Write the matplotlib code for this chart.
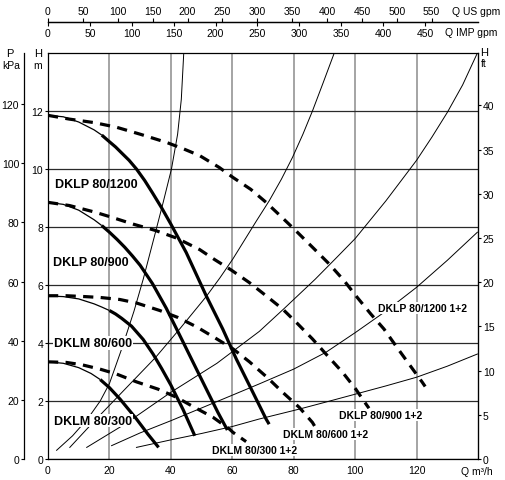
import matplotlib
matplotlib.use('Agg')
import matplotlib.pyplot as plt

plt.rcParams['font.family'] = 'Liberation Sans'

# axis ticks
q_ticks = [0, 20, 40, 60, 80, 100, 120]
h_ticks = [0, 2, 4, 6, 8, 10, 12]
p_ticks = [0, 20, 40, 60, 80, 100, 120]
ft_ticks = [0, 5, 10, 15, 20, 25, 30, 35, 40]
us_ticks = [0, 50, 100, 150, 200, 250, 300, 350, 400, 450, 500, 550]
imp_ticks = [0, 50, 100, 150, 200, 250, 300, 350, 400, 450]

# pump curves (Q m3/h, H m), thick from index "k"
p1200_q = [0, 5, 10, 15, 17.5, 20, 22, 24, 26.4, 28.8, 31.5, 34, 37, 40, 45, 51.5, 56.9, 61.3, 66.7, 71, 72]
p1200_h = [11.85, 11.8, 11.62, 11.35, 11.17, 10.94, 10.76, 10.55, 10.3, 10.0, 9.6, 9.18, 8.66, 8.1, 7.12, 5.63, 4.48, 3.45, 2.3, 1.38, 1.2]
p900_q = [0, 5, 10, 15, 17.5, 20, 22.5, 25, 27.5, 30, 34, 38.5, 43.9, 49.4, 55.3, 58.4]
p900_h = [8.85, 8.78, 8.58, 8.25, 8.05, 7.82, 7.57, 7.3, 7.0, 6.68, 6.05, 5.2, 4.05, 2.87, 1.61, 1.0]
p600_q = [0, 5, 10, 15, 17.5, 20, 22, 24, 27.2, 31, 34.2, 37, 40, 44, 47.8]
p600_h = [5.62, 5.6, 5.52, 5.35, 5.24, 5.12, 5.0, 4.85, 4.58, 4.12, 3.62, 3.12, 2.55, 1.7, 0.8]
p300_q = [0, 5, 10, 14, 17, 20, 23.5, 26, 28.8, 32.5, 36]
p300_h = [3.35, 3.3, 3.15, 2.95, 2.74, 2.46, 2.06, 1.74, 1.38, 0.86, 0.4]

# 1+2 curves (dashed)
d1200_q = [0, 7, 15, 22.3, 30, 38.5, 44, 49.4, 55.8, 60.2, 66, 71, 75, 80.7, 86.7, 91.6,
           96.4, 100.7, 105.1, 109.4, 113.2, 117.5, 121.9, 122.8]
d1200_h = [11.85, 11.72, 11.6, 11.44, 11.2, 10.92, 10.7, 10.46, 10.05, 9.71, 9.3, 8.85, 8.45,
           7.87, 7.24, 6.72, 6.15, 5.57, 5.0, 4.48, 3.91, 3.28, 2.64, 2.5]
d900_q = [0, 7, 15, 20, 27.7, 35, 41.8, 49.4, 54.2, 59.6, 65.6, 71, 76.4, 81.3, 86.1, 91,
          95.9, 100.2, 103.5, 104.5]
d900_h = [8.85, 8.74, 8.52, 8.36, 8.1, 7.88, 7.62, 7.22, 6.88, 6.52, 6.08, 5.63, 5.17, 4.66,
          4.14, 3.56, 2.99, 2.41, 1.9, 1.75]
d600_q = [0, 6, 12, 17, 23.4, 28.8, 36.4, 42.3, 48.5, 54.8, 60.2, 65.6, 71.5, 76.4, 81.8, 86.1, 87]
d600_h = [5.63, 5.63, 5.6, 5.57, 5.5, 5.38, 5.12, 4.88, 4.55, 4.15, 3.8, 3.35, 2.8, 2.3, 1.78, 1.26, 1.1]
d300_q = [0, 6, 11, 16.9, 22.3, 28.8, 35.8, 41.8, 47.7, 53.7, 59.1, 60.2, 64.5]
d300_h = [3.35, 3.33, 3.25, 3.1, 2.93, 2.66, 2.41, 2.13, 1.78, 1.44, 1.03, 0.92, 0.6]

# system curves (thin)
s1_q = [2.8, 8, 13, 17, 20, 24, 28, 31, 34.7, 37.5, 40.2, 42.2, 43.4, 44.2]
s1_h = [0.3, 0.8, 1.4, 2.0, 2.6, 3.8, 5.1, 6.2, 7.7, 8.85, 10.0, 11.2, 12.4, 14.0]
s2_q = [7.1, 15, 25, 35, 43, 51.5, 56, 60.2, 64, 67.8, 72, 76, 79.6, 83, 86.1, 89.5, 93.2]
s2_h = [0.4, 1.3, 2.4, 3.5, 4.5, 5.6, 6.25, 6.9, 7.55, 8.2, 8.9, 9.65, 10.4, 11.2, 12.0, 12.95, 14.0]
s3_q = [12.6, 25, 40, 55, 68.8, 77, 87, 94, 100, 110, 120, 125, 130, 135, 139.8]
s3_h = [0.4, 1.2, 2.3, 3.3, 4.4, 5.2, 6.2, 6.95, 7.6, 8.9, 10.3, 11.1, 11.95, 12.9, 14.0]
s4_q = [20.7, 30, 40, 50, 60, 68.8, 80, 90.5, 100.2, 110, 120, 130, 139.8]
s4_h = [0.46, 0.9, 1.32, 1.76, 2.2, 2.59, 3.1, 3.68, 4.37, 5.1, 5.92, 6.85, 7.82]
s5_q = [28.8, 40, 50, 60, 68.8, 81.8, 90, 100.2, 110, 120, 130, 139.8]
s5_h = [0.4, 0.66, 0.88, 1.12, 1.38, 1.72, 1.95, 2.24, 2.52, 2.82, 3.2, 3.62]

pumps = [(p1200_q, p1200_h, 4), (p900_q, p900_h, 4), (p600_q, p600_h, 5), (p300_q, p300_h, 4)]
doubles = [(d1200_q, d1200_h), (d900_q, d900_h), (d600_q, d600_h), (d300_q, d300_h)]
systems = [(s1_q, s1_h), (s2_q, s2_h), (s3_q, s3_h), (s4_q, s4_h), (s5_q, s5_h)]

USGPM = 4.40287
IMPGPM = 3.66615
W, H = 506, 481

fig = plt.figure(figsize=(W / 100, H / 100), dpi=100)
L, R, B, T = 48 / W, 478 / W, 1 - 460 / H, 1 - 54 / H
ax = fig.add_axes([L, B, R - L, T - B])
ax.set_xlim(0, 140)
ax.set_ylim(0, 14)
ax.set_xticks(q_ticks)
ax.set_yticks(h_ticks)
ax.tick_params(axis='x', length=0, pad=4, labelsize=7.5)
ax.tick_params(axis='y', length=2.5, width=0.8, pad=1, labelsize=7.5)
ax.xaxis.grid(True, color='#8c8c8c', lw=1.1)
ax.yaxis.grid(True, color='#2a2a2a', lw=0.9)
ax.set_axisbelow(True)
for s in ax.spines.values():
    s.set_linewidth(0.9)

for q, h in systems:
    ax.plot(q, h, color='black', lw=0.7, zorder=2)

for q, h, k in pumps:
    ax.plot(q[:k + 1], h[:k + 1], color='black', lw=0.9, zorder=3, solid_capstyle='butt')
    ax.plot(q[k:], h[k:], color='black', lw=2.3, zorder=3, solid_capstyle='butt',
            solid_joinstyle='round')

for q, h in doubles:
    ax.plot(q, h, color='black', lw=2.3, ls=(0, (3.2, 2.3)), zorder=4, dash_capstyle='butt')

box = dict(facecolor='white', edgecolor='none', pad=0.5)
ax.text(2.3, 9.48, 'DKLP 80/1200', fontsize=9, fontweight='bold', va='center', zorder=6)
ax.text(1.7, 6.78, 'DKLP 80/900', fontsize=9, fontweight='bold', va='center', zorder=6)
ax.text(1.9, 4.0, 'DKLM 80/600', fontsize=9, fontweight='bold', va='center', zorder=6, bbox=box)
ax.text(1.9, 1.32, 'DKLM 80/300', fontsize=9, fontweight='bold', va='center', zorder=6, bbox=box)
ax.text(107.6, 5.21, 'DKLP 80/1200 1+2', fontsize=7.5, fontweight='bold', va='center', zorder=6, bbox=box)
ax.text(94.8, 1.52, 'DKLP 80/900 1+2', fontsize=7.5, fontweight='bold', va='center', zorder=6, bbox=box)
ax.text(76.4, 0.86, 'DKLM 80/600 1+2', fontsize=7.5, fontweight='bold', va='center', zorder=6, bbox=box)
ax.text(53.5, 0.31, 'DKLM 80/300 1+2', fontsize=7.5, fontweight='bold', va='center', zorder=6, bbox=box)

# kPa axis on the far left, ft axis on the right
sec_p = ax.secondary_yaxis(-24 / 430, functions=(lambda h: h * 9.80665, lambda p: p / 9.80665))
sec_p.set_yticks(p_ticks)
sec_p.tick_params(length=2.5, width=0.8, pad=1, labelsize=7.5)
sec_p.spines['left'].set_linewidth(0.9)

sec_ft = ax.secondary_yaxis('right', functions=(lambda h: h * 3.28084, lambda f: f / 3.28084))
sec_ft.set_yticks(ft_ticks)
sec_ft.tick_params(length=2.5, width=0.8, pad=1, labelsize=7.5)

# flow scales on top
y_line = 1 - 23 / H
ax_us = fig.add_axes([L, y_line, R - L, 1e-4])
ax_us.set_xlim(0, 140 * USGPM)
ax_us.set_xticks(us_ticks)
ax_us.tick_params(axis='x', top=True, labeltop=True, bottom=False, labelbottom=False,
                  length=3, width=0.8, pad=1.5, labelsize=7.5)
ax_imp = fig.add_axes([L, y_line, R - L, 1e-4])
ax_imp.set_xlim(0, 140 * IMPGPM)
ax_imp.set_xticks(imp_ticks)
ax_imp.tick_params(axis='x', length=3, width=0.8, pad=1.5, labelsize=7.5)
for a in (ax_us, ax_imp):
    a.set_yticks([])
    a.patch.set_visible(False)
    for side in ('left', 'right', 'top'):
        a.spines[side].set_visible(False)
    a.spines['bottom'].set_linewidth(0.9)

fig.text(452 / W, 1 - 12 / H, 'Q US gpm', fontsize=7.5, va='center')
fig.text(445 / W, 1 - 33 / H, 'Q IMP gpm', fontsize=7.5, va='center')
fig.text(461 / W, 1 - 472 / H, 'Q m³/h', fontsize=7.5, va='center')
fig.text(10 / W, 1 - 54 / H, 'P', fontsize=8, ha='center', va='center')
fig.text(11 / W, 1 - 66 / H, 'kPa', fontsize=7.5, ha='center', va='center')
fig.text(38 / W, 1 - 54 / H, 'H', fontsize=8, ha='center', va='center')
fig.text(38 / W, 1 - 66 / H, 'm', fontsize=7.5, ha='center', va='center')
fig.text(484 / W, 1 - 53 / H, 'H', fontsize=8, ha='center', va='center')
fig.text(484 / W, 1 - 64 / H, 'ft', fontsize=7.5, ha='center', va='center')

fig.savefig('out.png', dpi=100)
